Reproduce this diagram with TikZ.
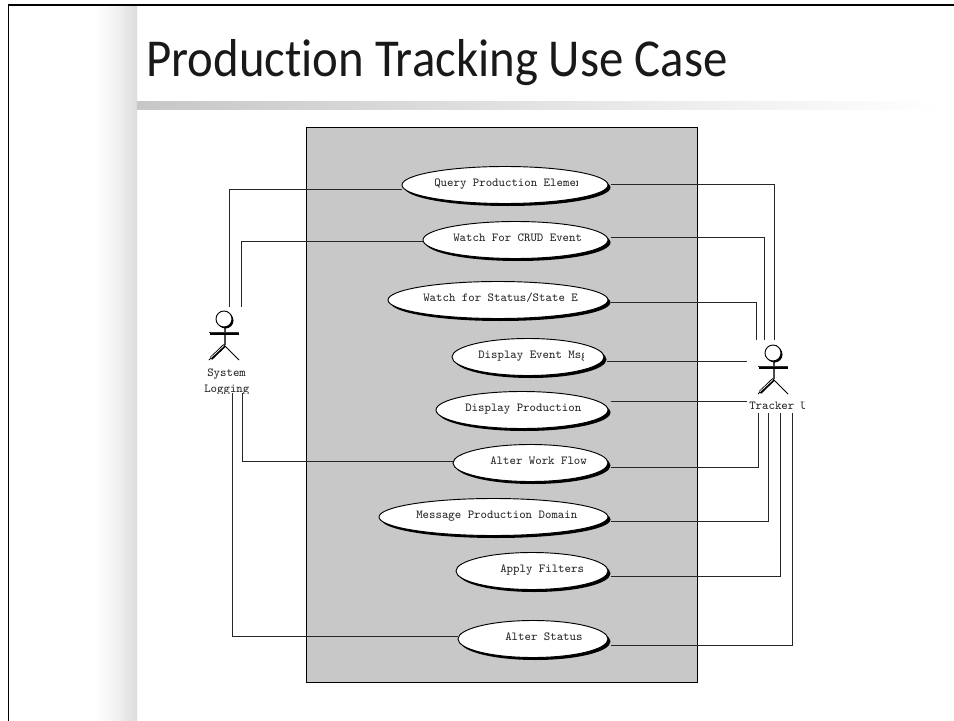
\documentclass[tikz,border=0pt]{standalone}
\usepackage{fontspec}
\newfontfamily\titlefont[Ligatures=NoCommon]{Carlito}
\definecolor{panel}{RGB}{200,200,200}
\tikzset{
  x=0.75pt,y=-0.75pt,
  lab/.style={inner sep=0pt,font=\ttfamily\fontsize{9.2pt}{10pt}\selectfont,text=black!85,anchor=base west},
  wire/.style={draw=black!85,line width=0.6pt},
}
\newcommand{\usecase}[7]{% name, left, right, cy, text x, clip x, text
  \pgfmathsetmacro{\cxx}{(#2+#3)/2}\pgfmathsetmacro{\rxx}{(#3-#2)/2}
  \fill[black] (\cxx+2.5,#4+2.5) ellipse [x radius=\rxx,y radius=18.5];
  \draw[fill=white,line width=0.7pt] (\cxx,#4) ellipse [x radius=\rxx,y radius=18.5];
  \coordinate (#1L) at (#2,#4);
  \coordinate (#1R) at (#3,#4);
  \begin{scope}
    \clip (#2,#4-18) rectangle (#6,#4+18);
    \node[lab] (#1T) at (#5,#4+1) {#7};
  \end{scope}
}
\newcommand{\actor}[3]{% name, x, y of head centre
  \draw[black!70,line width=1.8pt] (#2+1,#3+8) -- (#2+1,#3+26);
  \draw[black,line width=2.2pt] (#2-14,#3+15) -- (#2+15,#3+15);
  \draw[black,line width=0.7pt] (#2-15,#3+41) -- (#2,#3+26) -- (#2+15,#3+41);
  \draw[black,line width=2.6pt] (#2-13,#3+39.5) -- (#2+0.5,#3+26.5);
  \draw[white,line width=0.5pt] (#2-13.5,#3+39) -- (#2,#3+26.5);
  \draw[black!80,line width=0.7pt] (#2-15,#3+13.5) -- (#2+15,#3+13.5);
  \fill[black] (#2+1.5,#3+1.5) circle [radius=8];
  \draw[fill=white,line width=0.7pt] (#2,#3) circle [radius=8];
  \coordinate (#1) at (#2,#3);
}
\begin{document}
\begin{tikzpicture}
\useasboundingbox (0,0) rectangle (954,721);
\fill[white] (0,0) rectangle (954,721);
% slide background
\shade[left color=white,right color=black!14,shading angle=90,middle color=black!5] (95,5) rectangle (137,721);
\shade[left color=black!22,right color=white] (137,101) rectangle (940,109);
\draw[black,line width=0.8pt] (8.5,721) -- (8.5,5) -- (954,5);
\node[inner sep=0pt,anchor=base west,font=\titlefont\fontsize{40pt}{44pt}\selectfont,text=black!90,xscale=0.915,transform shape] (title) at (146,76) {Production Tracking Use Case};
% system boundary
\node[draw=black,fill=panel,line width=0.7pt,minimum width=391*0.75pt,minimum height=555*0.75pt,inner sep=0pt,anchor=north west] (sys) at (306,127) {};
% use cases
\usecase{q}{402}{608}{185}{434}{577}{Query Production Elemen}
\usecase{w}{423}{608}{240}{453}{590}{Watch For CRUD Event}
\usecase{s}{388}{608}{300}{423}{590}{Watch for Status/State E}
\usecase{e}{452}{604}{357}{478}{583}{Display Event Msg}
\usecase{d}{436}{608}{410}{465}{590}{Display Production}
\usecase{a}{453}{608}{463}{490}{590}{Alter Work Flow}
\usecase{m}{379}{608}{517}{416}{590}{Message Production Domain}
\usecase{f}{456}{608}{571}{500}{590}{Apply Filters}
\usecase{t}{458}{608}{639}{505}{590}{Alter Status}
% actors
\actor{sa}{224}{319}
\actor{ta}{773}{353}
\node[lab] (st) at (207,376) {System};
\begin{scope}
\clip (200,380) rectangle (250,393);
\node[lab] (lg) at (204,392) {Logging};
\end{scope}
\begin{scope}
\clip (745,395) rectangle (804.5,415);
\node[lab] (tu) at (749,409) {Tracker U};
\end{scope}
% connectors
\coordinate (sa1) at (229,307);\coordinate (sa2) at (241,307);
\coordinate (sb1) at (242,393);\coordinate (sb2) at (232,393);
\draw[wire] (qL |- 0,189) -| (sa1);
\draw[wire] (wL |- 0,241) -| (sa2);
\draw[wire] (aL |- 0,461) -| (sb1);
\draw[wire] (tL |- 0,636) -| (sb2);
\coordinate (ta1) at (756,340);\coordinate (ta2) at (764,340);\coordinate (ta3) at (774,340);
\coordinate (tb1) at (758,413);\coordinate (tb2) at (768,413);\coordinate (tb3) at (780,413);\coordinate (tb4) at (792,413);
\draw[wire] ([xshift=2pt]qR |- 0,184) -| (ta3);
\draw[wire] ([xshift=2pt]wR |- 0,237) -| (ta2);
\draw[wire] ([xshift=2pt]sR |- 0,302) -| (ta1);
\draw[wire] ([xshift=2pt]eR |- 0,361) -- (747,361);
\draw[wire] ([xshift=2pt]dR |- 0,401) -- (747,401);
\draw[wire] ([xshift=2pt]aR |- 0,467) -| (tb1);
\draw[wire] ([xshift=2pt]mR |- 0,521) -| (tb2);
\draw[wire] ([xshift=2pt]fR |- 0,576) -| (tb3);
\draw[wire] ([xshift=2pt]tR |- 0,645) -| (tb4);
\end{tikzpicture}
\end{document}
